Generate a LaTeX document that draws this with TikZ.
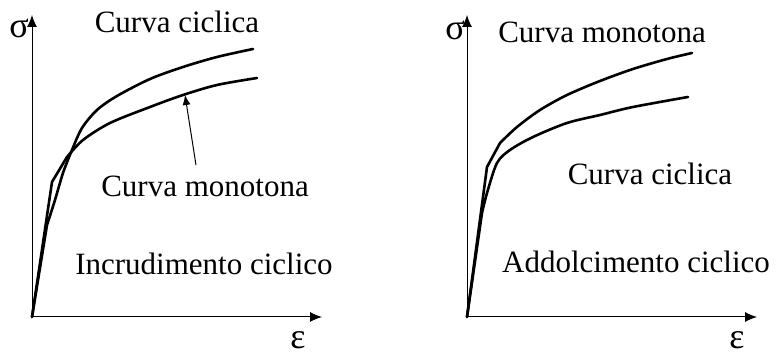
\documentclass[tikz,border=0pt]{standalone}
\usepackage{fontspec}
\setmainfont{Liberation Serif}
\usetikzlibrary{arrows.meta}
\tikzset{
  axis/.style={line width=0.5pt,-{Latex[length=6pt,width=5pt]}},
  curve/.style={line width=1.3pt,line join=round,line cap=round},
  pointer/.style={line width=0.5pt,-{Latex[length=5pt,width=4pt]}},
  lbl/.style={anchor=base,inner sep=0pt,font=\fontsize{15.5}{18}\selectfont},
  sym/.style={anchor=base,inner sep=0pt,font=\fontsize{18}{20}\selectfont},
}
\begin{document}
\begin{tikzpicture}[x=0.5pt,y=0.5pt]
\useasboundingbox (0,0) rectangle (780,356);
% incrudimento ciclico
\coordinate (oL) at (32,39);
\coordinate (yL) at (32,341);
\coordinate (xL) at (322,39);
\draw[axis] (oL)--(yL);
\draw[axis] (oL)--(xL);
\node[sym] (sigL) at (19,318) {σ};
\node[sym] (epsL) at (298,7) {ε};
\draw[curve] (oL) -- plot[smooth] coordinates {(47,131) (55,156) (63,183) (72,206) (82,228) (97,246) (117,260) (150,277) (183,289) (217,299) (253,307)};
\draw[curve] (oL) -- (52,174) -- plot[smooth] coordinates {(67,199) (83,216) (110,233) (150,249) (183,261) (217,271) (257,278)};
\coordinate (pL) at (185,261);
\node[lbl] (cicL) at (177,323) {Curva ciclica};
\node[lbl] (monoL) at (205,159) {Curva monotona};
\node[lbl] (incr) at (204,81) {Incrudimento ciclico};
\draw[pointer] ([xshift=-4.5pt,yshift=5.5pt]monoL.north) -- (pL);
% addolcimento ciclico
\coordinate (oR) at (467,39);
\coordinate (yR) at (467,341);
\coordinate (xR) at (757,39);
\draw[axis] (oR)--(yR);
\draw[axis] (oR)--(xR);
\node[sym] (sigR) at (455,316) {σ};
\node[sym] (epsR) at (737,7) {ε};
\draw[curve] (oR) -- (487,189) -- plot[smooth] coordinates {(500,213) (517,229) (540,246) (567,261) (600,275) (633,287) (667,297) (692,303)};
\draw[curve] (oR) -- plot[smooth] coordinates {(482,143) (487,163) (497,193) (510,206) (533,219) (567,233) (600,241) (633,249) (688,259)};
\node[lbl] (monoR) at (602,313) {Curva monotona};
\node[lbl] (cicR) at (650,171) {Curva ciclica};
\node[lbl] (addol) at (636,83) {Addolcimento ciclico};
\end{tikzpicture}
\end{document}
